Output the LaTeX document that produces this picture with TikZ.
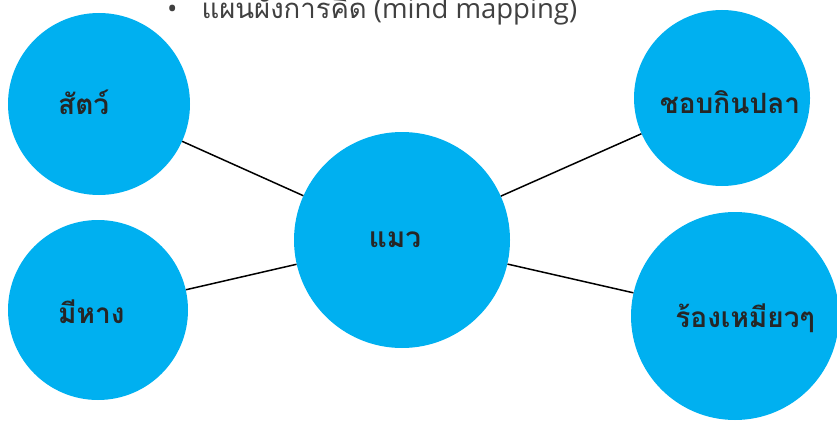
\documentclass[tikz,border=0pt]{standalone}
\usepackage{fontspec}
\setmainfont{Open Sans}
\newfontfamily\thaifont[Script=Thai]{Loma}
\definecolor{bubble}{HTML}{00B0F0}
\definecolor{ink}{HTML}{262626}
\definecolor{title}{HTML}{404040}
\begin{document}
\begin{tikzpicture}[x=1pt,y=1pt,
  bubblestyle/.style={circle,fill=bubble,draw=none,inner sep=0pt,minimum size=#1},
  labelstyle/.style={text=ink,font=\thaifont\bfseries\fontsize{28}{32}\selectfont,inner sep=0pt},
  linkstyle/.style={draw=black,line width=1.5pt}]
\useasboundingbox (0,0) rectangle (837,424);
\begin{scope}
\clip (0,0) rectangle (837,424);
\node[anchor=base west,text=title,font=\fontsize{27.5}{30}\selectfont,inner sep=0pt] (ttl) at (167,405)
  {\textbullet\hspace{24pt}{\thaifont แผนผังการคิด} (mind mapping)};
\node[bubblestyle=182pt] (a) at (99,320) {};
\node[bubblestyle=180pt] (b) at (98,114) {};
\node[bubblestyle=216pt] (c) at (402,184) {};
\node[bubblestyle=176pt] (d) at (722,326) {};
\node[bubblestyle=208pt] (e) at (735,108) {};
\draw[linkstyle] (a) -- (c);
\draw[linkstyle] (b) -- (c);
\draw[linkstyle] (c) -- (d);
\draw[linkstyle] (c) -- (e);
\node[labelstyle,anchor=west] (ta) at (58,322) {สัตว์};
\node[labelstyle,anchor=west] (tb) at (58,112) {มีหาง};
\node[labelstyle] (tc) at (395,184) {แมว};
\node[labelstyle] (td) at (730,322) {ชอบกินปลา};
\node[labelstyle] (te) at (745,106) {ร้องเหมียวๆ};
\end{scope}
\end{tikzpicture}
\end{document}
